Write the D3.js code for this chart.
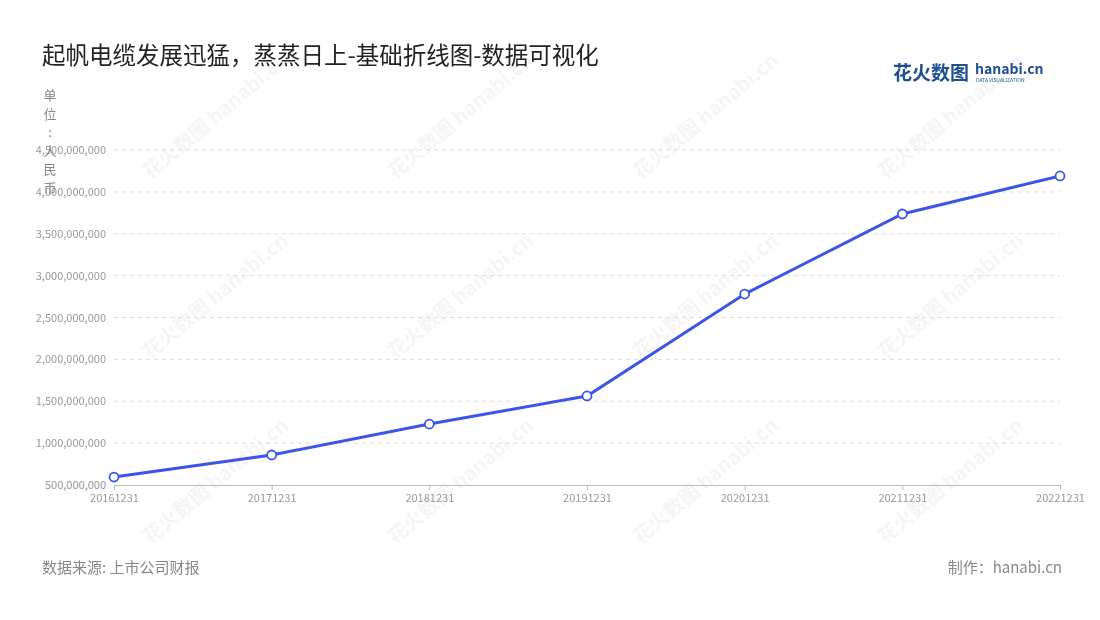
<!DOCTYPE html>
<html><head><meta charset="utf-8">
<script src="https://cdn.jsdelivr.net/npm/d3@7"></script>
<style>body{margin:0;background:#fff;font-family:"Noto Sans CJK SC","Noto Sans",sans-serif;}</style>
</head><body>
<svg id="chart" width="1100" height="620"></svg>
<script>
var years = ["20161231","20171231","20181231","20191231","20201231","20211231","20221231"];
var values = [595000000, 858000000, 1228000000, 1563000000, 2780000000, 3736000000, 4190000000];
var yTicks = [500000000,1000000000,1500000000,2000000000,2500000000,3000000000,3500000000,4000000000,4500000000];

var svg = d3.select("#chart");
var font = '"Noto Sans CJK SC","Noto Sans",sans-serif';
var plotLeft = 114, plotRight = 1060, plotTop = 150, plotBottom = 485;

var x = d3.scalePoint().domain(years).range([plotLeft, plotRight]);
var y = d3.scaleLinear().domain([500000000, 4500000000]).range([plotBottom, plotTop]);

// watermarks
var wm = svg.append("g").attr("opacity", 0.05).attr("font-family", font);
[[150,180],[395,180],[640,180],[885,180],[150,360],[395,360],[640,360],[885,360],[150,545],[395,545],[640,545],[885,545]].forEach(function(p){
  wm.append("text").attr("transform","translate("+p[0]+","+p[1]+") rotate(-40)")
    .attr("font-size",20).attr("font-weight","bold").attr("fill","#333").text("花火数图 hanabi.cn");
});

// grid
svg.append("g").selectAll("line").data(yTicks.slice(1)).enter().append("line")
  .attr("x1", plotLeft).attr("x2", plotRight).attr("y1", function(d){return y(d);}).attr("y2", function(d){return y(d);})
  .attr("stroke", "#ddd").attr("stroke-dasharray", "4,4");

// y axis labels
var ya = svg.append("g").attr("transform","translate("+plotLeft+",0)")
  .call(d3.axisLeft(y).tickValues(yTicks).tickFormat(d3.format(",")).tickSize(0).tickPadding(8));
ya.select(".domain").remove();
ya.selectAll("text").attr("fill","#999").attr("font-size",11).attr("font-family",font);

// x axis
var xa = svg.append("g").attr("transform","translate(0,"+plotBottom+")")
  .call(d3.axisBottom(x).tickSize(5).tickPadding(4));
xa.select(".domain").attr("stroke","#bbb");
xa.selectAll("line").attr("stroke","#bbb");
xa.selectAll("text").attr("fill","#999").attr("font-size",11).attr("font-family",font);

// unit label vertical
var unit = "单位：人民币".split("");
unit.forEach(function(c,i){
  svg.append("text").attr("x",50).attr("y",100+i*18.5).attr("text-anchor","middle")
    .attr("font-size",13).attr("fill","#888").attr("font-family",font).text(c==="："?":":c);
});

// line
var line = d3.line().x(function(d,i){return x(years[i]);}).y(function(d){return y(d);});
svg.append("path").datum(values).attr("d", line).attr("fill","none").attr("stroke","#3c55e6").attr("stroke-width",3);
svg.append("g").selectAll("circle").data(values).enter().append("circle")
  .attr("cx", function(d,i){return x(years[i]);}).attr("cy", function(d){return y(d);})
  .attr("r",4.5).attr("fill","#fff").attr("stroke","#3c55e6").attr("stroke-width",1.8);

// title
svg.append("text").attr("x",42).attr("y",64).attr("font-size",23.5).attr("fill","#222").attr("font-family",font)
  .text("起帆电缆发展迅猛，蒸蒸日上-基础折线图-数据可视化");

// logo
svg.append("text").attr("x",893).attr("y",80).attr("font-size",19).attr("font-weight","bold").attr("fill","#1d4f91").attr("font-family",font).text("花火数图");
svg.append("text").attr("x",975).attr("y",74).attr("font-size",14).attr("font-weight","bold").attr("fill","#1d4f91").attr("font-family",font).text("hanabi.cn");
svg.append("text").attr("x",976).attr("y",82).attr("font-size",5).attr("fill","#1d4f91").attr("font-family",font).text("DATA VISUALIZATION");

// footer
svg.append("text").attr("x",42).attr("y",573).attr("font-size",15).attr("fill","#888").attr("font-family",font).text("数据来源: 上市公司财报");
svg.append("text").attr("x",1062).attr("y",573).attr("text-anchor","end").attr("font-size",15).attr("fill","#888").attr("font-family",font).text("制作：hanabi.cn");
</script>
</body></html>
